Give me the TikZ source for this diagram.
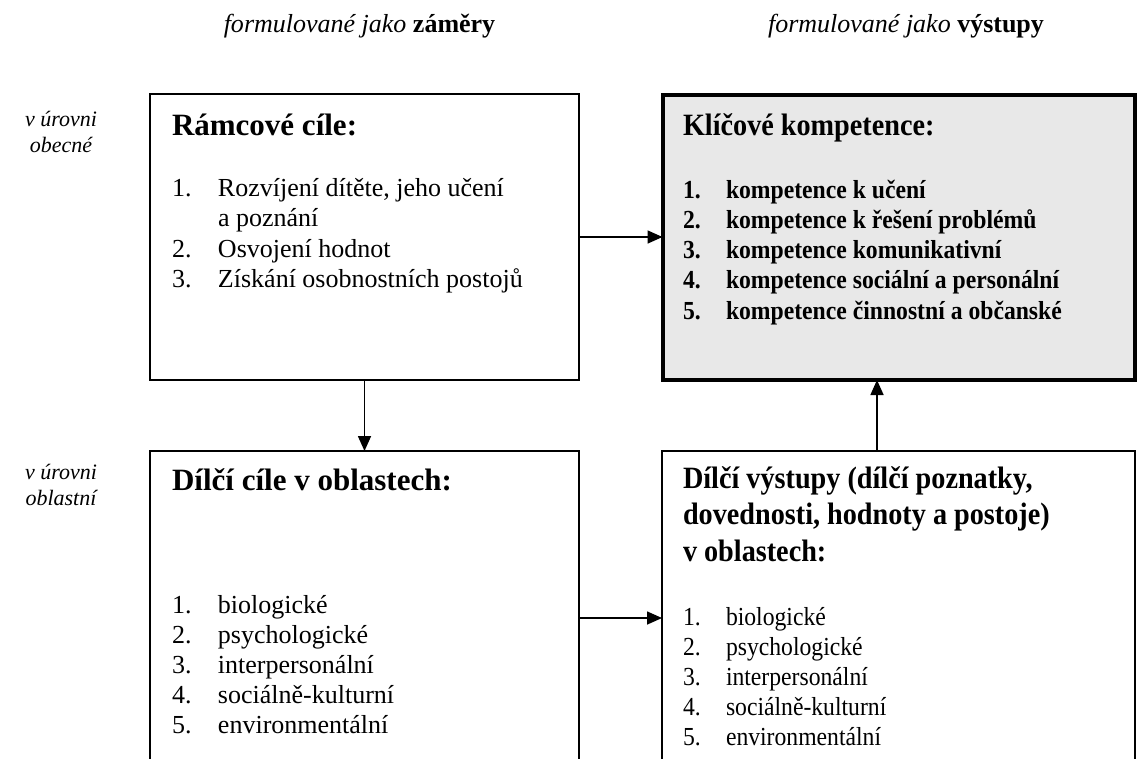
\documentclass[tikz,border=0pt]{standalone}
\usepackage{fontspec}
\setmainfont{Liberation Serif}
\newfontfamily\narrowserif[FakeStretch=0.91]{Liberation Serif}
\usetikzlibrary{arrows.meta}
\newcommand{\nm}[2][46pt]{\makebox[#1][l]{#2}}
\tikzset{
  box/.style={draw=black, line width=1.8pt, rectangle, inner sep=0pt, outer sep=0pt, anchor=north west},
  keybox/.style={draw=black, line width=4pt, fill=black!9, rectangle, inner sep=0pt, outer sep=0pt, anchor=north west},
  txt/.style={anchor=base west, inner sep=0pt, outer sep=0pt},
  arr/.style={line width=1.6pt, -{Triangle[length=15pt,width=13pt]}},
}
\begin{document}
\begin{tikzpicture}[x=1pt,y=-1pt]
\clip (0,0) rectangle (1139,758);
\fill[white] (0,0) rectangle (1139,758);

% headers
\node[anchor=base, inner sep=0pt] (h1) at (359.5,32) {\fontsize{26}{30}\selectfont\textit{formulované jako} \textbf{záměry}};
\node[anchor=base, inner sep=0pt] (h2) at (906,32) {\fontsize{26}{30}\selectfont\textit{formulované jako} \textbf{výstupy}};

% side labels
\node[anchor=base, inner sep=0pt] (l1) at (61,126) {\fontsize{22}{26}\selectfont\itshape\begin{tabular}[t]{@{}c@{}}v úrovni\\obecné\end{tabular}};
\node[anchor=base, inner sep=0pt] (l2) at (61,479) {\fontsize{22}{26}\selectfont\itshape\begin{tabular}[t]{@{}c@{}}v úrovni\\oblastní\end{tabular}};

% boxes
\node[box, minimum width=429pt, minimum height=286pt] (tl) at (150,94) {};
\node[keybox, minimum width=472.5pt, minimum height=285pt] (tr) at (662.5,95) {};
\node[box, minimum width=429pt, minimum height=334pt] (bl) at (150,451) {};
\node[box, minimum width=473pt, minimum height=334pt] (br) at (662,451) {};

% top-left content
\node[txt] (tlt) at (172,135) {\fontsize{31}{36}\selectfont\bfseries Rámcové cíle:};
\node[txt] (tll) at (172,196) {\fontsize{26}{30.5}\selectfont\begin{tabular}[t]{@{}l@{}l@{}}
\nm{1.} & Rozvíjení dítěte, jeho učení\\
 & a poznání\\
\nm{2.} & Osvojení hodnot\\
\nm{3.} & Získání osobnostních postojů
\end{tabular}};

% top-right content
\node[txt] (trt) at (683,135) {\narrowserif\fontsize{31}{36}\selectfont\bfseries Klíčové kompetence:};
\node[txt] (trl) at (683,198) {\narrowserif\fontsize{26}{30.3}\selectfont\bfseries\begin{tabular}[t]{@{}l@{}l@{}}
\nm[43pt]{1.} & kompetence k učení\\
\nm[43pt]{2.} & kompetence k řešení problémů\\
\nm[43pt]{3.} & kompetence komunikativní\\
\nm[43pt]{4.} & kompetence sociální a personální\\
\nm[43pt]{5.} & kompetence činnostní a občanské
\end{tabular}};

% bottom-left content
\node[txt] (blt) at (172,490) {\fontsize{31}{36}\selectfont\bfseries Dílčí cíle v oblastech:};
\node[txt] (bll) at (172,613.5) {\fontsize{26}{30.1}\selectfont\begin{tabular}[t]{@{}l@{}l@{}}
\nm{1.} & biologické\\
\nm{2.} & psychologické\\
\nm{3.} & interpersonální\\
\nm{4.} & sociálně-kulturní\\
\nm{5.} & environmentální
\end{tabular}};

% bottom-right content
\node[txt] (brt) at (683,488) {\narrowserif\fontsize{31}{36.5}\selectfont\bfseries\begin{tabular}[t]{@{}l@{}}
Dílčí výstupy (dílčí poznatky,\\
dovednosti, hodnoty a postoje)\\
v oblastech:
\end{tabular}};
\node[txt] (brl) at (683,625.5) {\narrowserif\fontsize{26}{30}\selectfont\begin{tabular}[t]{@{}l@{}l@{}}
\nm[43pt]{1.} & biologické\\
\nm[43pt]{2.} & psychologické\\
\nm[43pt]{3.} & interpersonální\\
\nm[43pt]{4.} & sociálně-kulturní\\
\nm[43pt]{5.} & environmentální
\end{tabular}};

% connectors
\coordinate (upx) at (877,0);
\draw[arr] (tl.east) -- (tl.east -| tr.west);
\draw[arr] (tl.south) -- (tl.south |- bl.north);
\draw[arr] (bl.east) -- (bl.east -| br.west);
\draw[arr] (upx |- br.north) -- (upx |- tr.south);
\end{tikzpicture}
\end{document}
